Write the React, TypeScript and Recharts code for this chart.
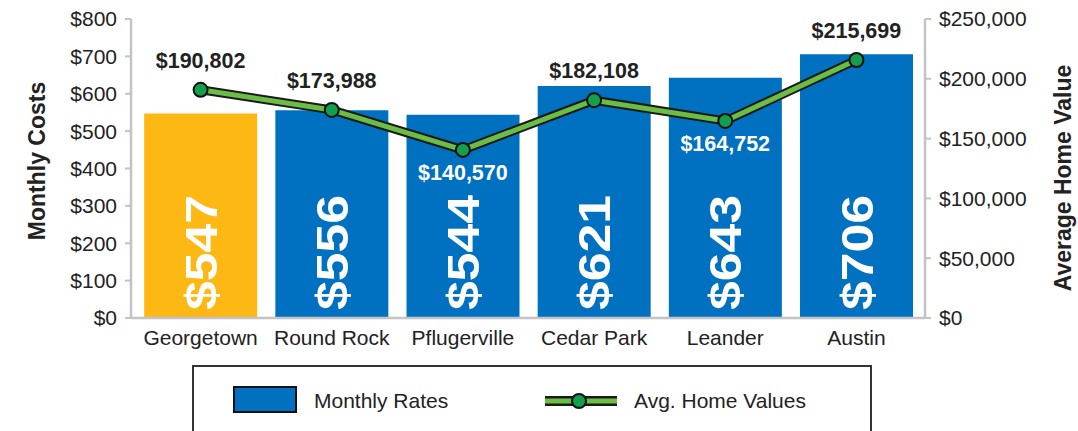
import { ComposedChart, Bar, Line, XAxis, YAxis, Cell, LabelList } from "recharts";

const cities = ["Georgetown", "Round Rock", "Pflugerville", "Cedar Park", "Leander", "Austin"];
const monthlyRates = [547, 556, 544, 621, 643, 706];
const homeValues = [190802, 173988, 140570, 182108, 164752, 215699];
const costTicks = [0, 100, 200, 300, 400, 500, 600, 700, 800];
const valueTicks = [0, 50000, 100000, 150000, 200000, 250000];
const highlightCity = "Georgetown";
const labelsBelow = ["Pflugerville", "Leander"];

const data = cities.map((city, i) => ({
  city,
  rate: monthlyRates[i],
  home: homeValues[i],
}));

const FONT = "'Liberation Sans', Arial, sans-serif";
const BLUE = "#0070c0";
const YELLOW = "#fdb813";
const GREEN = "#6cbd45";
const DOT_GREEN = "#14a04a";
const AXIS = "#c3c3c5";
const TEXT = "#222";

function fmtMoney(v: number): string {
  return "$" + v.toLocaleString("en-US");
}

function BarValueLabel(props: any) {
  const { x, y, width, height, value } = props;
  const bx = Number(x) + Number(width) / 2 + 16;
  const by = Number(y) + Number(height) - 8;
  return (
    <text
      transform={`translate(${bx},${by}) rotate(-90) scale(1.15,1)`}
      x={0}
      y={0}
      textAnchor="start"
      fill="#fff"
      fontFamily={FONT}
      fontWeight="bold"
      fontSize={45}
    >
      {fmtMoney(Number(value))}
    </text>
  );
}

function HomeValueLabel(props: any) {
  const { x, y, value, index } = props;
  const below = labelsBelow.includes(cities[index]);
  return (
    <text
      x={Number(x)}
      y={below ? Number(y) + 30 : Number(y) - 22}
      textAnchor="middle"
      fill={below ? "#fff" : TEXT}
      fontFamily={FONT}
      fontWeight="bold"
      fontSize={21.5}
    >
      {fmtMoney(Number(value))}
    </text>
  );
}

function AxisTitle({ x, y, text }: { x: number; y: number; text: string }) {
  return (
    <text
      x={x}
      y={y}
      transform={`rotate(-90, ${x}, ${y})`}
      textAnchor="middle"
      fill={TEXT}
      fontFamily={FONT}
      fontWeight="bold"
      fontSize={23}
    >
      {text}
    </text>
  );
}

const tickStyle = { fontSize: 21, fill: TEXT, fontFamily: FONT };

export default function App() {
  return (
    <div
      style={{
        position: "absolute",
        left: 0,
        top: 0,
        width: 1078,
        height: 431,
        overflow: "hidden",
        background: "#fff",
        fontFamily: FONT,
      }}
    >
      <ComposedChart
        width={1078}
        height={431}
        data={data}
        margin={{ top: 19, right: 0, left: 0, bottom: 83 }}
        barCategoryGap="7%"
      >
        <XAxis
          dataKey="city"
          height={30}
          tick={tickStyle}
          tickLine={false}
          tickSize={0}
          tickMargin={12}
          axisLine={{ stroke: AXIS, strokeWidth: 2.5 }}
          padding={{ left: 4, right: 3 }}
          interval={0}
        />
        <YAxis
          yAxisId="left"
          orientation="left"
          width={131}
          domain={[0, 800]}
          ticks={costTicks}
          tickFormatter={fmtMoney}
          tick={tickStyle}
          tickSize={6}
          tickMargin={8}
          tickLine={{ stroke: AXIS, strokeWidth: 2 }}
          axisLine={{ stroke: AXIS, strokeWidth: 2.5 }}
          label={() => <AxisTitle x={45} y={161} text="Monthly Costs" />}
        />
        <YAxis
          yAxisId="right"
          orientation="right"
          width={153}
          domain={[0, 250000]}
          ticks={valueTicks}
          tickFormatter={fmtMoney}
          tick={tickStyle}
          tickSize={6}
          tickMargin={8}
          tickLine={{ stroke: AXIS, strokeWidth: 2 }}
          axisLine={{ stroke: AXIS, strokeWidth: 2.5 }}
          label={() => <AxisTitle x={1071} y={178} text="Average Home Value" />}
        />
        <Bar yAxisId="left" dataKey="rate" fill={BLUE} isAnimationActive={false}>
          {data.map((d) => (
            <Cell key={d.city} fill={d.city === highlightCity ? YELLOW : BLUE} />
          ))}
          <LabelList dataKey="rate" content={BarValueLabel} />
        </Bar>
        <Line
          yAxisId="right"
          dataKey="home"
          stroke="#1a1a1a"
          strokeWidth={9}
          dot={false}
          activeDot={false}
          isAnimationActive={false}
        />
        <Line
          yAxisId="right"
          dataKey="home"
          stroke={GREEN}
          strokeWidth={5}
          dot={{ r: 7, fill: DOT_GREEN, stroke: "#111", strokeWidth: 2 }}
          activeDot={false}
          isAnimationActive={false}
        >
          <LabelList dataKey="home" content={HomeValueLabel} />
        </Line>
      </ComposedChart>

      <div
        style={{
          position: "absolute",
          left: 192,
          top: 365,
          width: 680,
          height: 90,
          border: "2px solid #333",
          boxSizing: "border-box",
        }}
      >
        <div
          style={{
            position: "absolute",
            left: 39,
            top: 19,
            width: 64,
            height: 27,
            background: BLUE,
            border: "2px solid #111",
            boxSizing: "border-box",
          }}
        />
        <div
          style={{
            position: "absolute",
            left: 120,
            top: 19,
            lineHeight: "30px",
            fontSize: 21,
            color: TEXT,
          }}
        >
          Monthly Rates
        </div>
        <svg
          style={{ position: "absolute", left: 351, top: 22 }}
          width={72}
          height={24}
        >
          <line x1={0} y1={12} x2={72} y2={12} stroke="#1a1a1a" strokeWidth={10} />
          <line x1={0} y1={12} x2={72} y2={12} stroke={GREEN} strokeWidth={5} />
          <circle cx={34} cy={12} r={7} fill={DOT_GREEN} stroke="#111" strokeWidth={2} />
        </svg>
        <div
          style={{
            position: "absolute",
            left: 440,
            top: 19,
            lineHeight: "30px",
            fontSize: 21,
            color: TEXT,
          }}
        >
          Avg. Home Values
        </div>
      </div>
    </div>
  );
}
